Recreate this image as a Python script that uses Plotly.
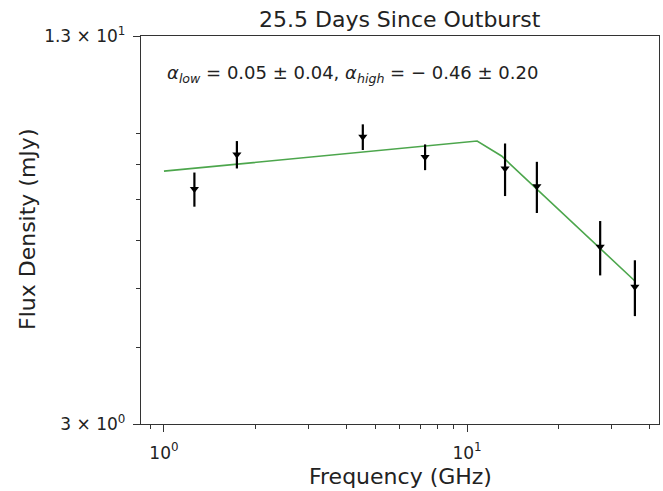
import plotly.graph_objects as go
import numpy as np

# Radio spectrum, 25.5 days after outburst
freq_ghz = [1.26, 1.74, 4.53, 7.27, 13.35, 17.0, 27.5, 35.8]
flux_mjy = [7.29, 8.31, 8.88, 8.23, 7.88, 7.37, 5.86, 5.04]
flux_err = [0.47, 0.43, 0.43, 0.40, 0.78, 0.71, 0.60, 0.53]

# Broken power-law fit, sampled at its vertices
fit_freq = [1.0, 10.8, 13.0, 35.8]
fit_flux = [7.80, 8.74, 8.26, 5.15]

y_tick_vals = [3, 13]
y_tick_text = ["3 × 10<sup>0</sup>", "1.3 × 10<sup>1</sup>"]
y_minor_vals = [4, 5, 6, 7, 8, 9]
x_tick_vals = [1, 10]
x_tick_text = ["10<sup>0</sup>", "10<sup>1</sup>"]
x_minor_vals = [0.9, 2, 3, 4, 5, 6, 7, 8, 9, 20, 30, 40]

FONT = "DejaVu Sans"
INK = "#222222"

fig = go.Figure()

fig.add_trace(go.Scatter(
    x=fit_freq, y=fit_flux, mode="lines",
    line=dict(color="rgba(0,128,0,0.7)", width=1.6),
    hoverinfo="skip", showlegend=False,
))

fig.add_trace(go.Scatter(
    x=freq_ghz, y=flux_mjy, mode="markers",
    marker=dict(symbol="triangle-down", size=8, color="black"),
    error_y=dict(type="data", array=flux_err, visible=True,
                 color="black", thickness=2.2, width=0),
    showlegend=False,
))

axis_common = dict(
    type="log", showgrid=False, zeroline=False,
    showline=True, linecolor="#333333", linewidth=1.3, mirror=True,
    ticks="outside", ticklen=7, tickwidth=1.3, tickcolor="#333333",
    tickfont=dict(family=FONT, size=17, color=INK),
)

fig.update_xaxes(
    **axis_common,
    range=[np.log10(0.8398), np.log10(43.0)],
    tickmode="array", tickvals=x_tick_vals, ticktext=x_tick_text,
    ticklabelstandoff=6,
    minor=dict(tickmode="array", tickvals=x_minor_vals, ticklen=4,
               tickwidth=1.1, tickcolor="#333333", ticks="outside"),
)
fig.update_yaxes(
    **axis_common,
    range=[np.log10(3), np.log10(13)],
    tickmode="array", tickvals=y_tick_vals, ticktext=y_tick_text,
    ticklabelstandoff=4,
    minor=dict(tickmode="array", tickvals=y_minor_vals, ticklen=4,
               tickwidth=1.1, tickcolor="#333333", ticks="outside"),
)

fig.update_layout(
    width=663, height=491,
    margin=dict(l=141, r=4, t=36, b=67),
    paper_bgcolor="white", plot_bgcolor="white",
    font=dict(family=FONT, color=INK),
    annotations=[
        dict(text="25.5 Days Since Outburst", xref="paper", yref="paper",
             x=0.5, y=1 + 16 / 388, xanchor="center", yanchor="middle",
             showarrow=False, font=dict(size=22, family=FONT, color=INK)),
        dict(text="<i>α</i><sub><i>low</i></sub> = 0.05 ± 0.04, "
                  "<i>α</i><sub><i>high</i></sub> = − 0.46 ± 0.20",
             xref="paper", yref="paper", x=24 / 518, y=1 - 38 / 388,
             xanchor="left", yanchor="middle", showarrow=False,
             font=dict(size=18, family=FONT, color=INK)),
        dict(text="Frequency (GHz)", xref="paper", yref="paper",
             x=0.5, y=-52 / 388, xanchor="center", yanchor="middle",
             showarrow=False, font=dict(size=22, family=FONT, color=INK)),
        dict(text="Flux Density (mJy)", xref="paper", yref="paper",
             x=-114 / 518, y=0.5, xanchor="center", yanchor="middle",
             textangle=-90, showarrow=False,
             font=dict(size=22, family=FONT, color=INK)),
    ],
)

fig.write_html("out.html")
